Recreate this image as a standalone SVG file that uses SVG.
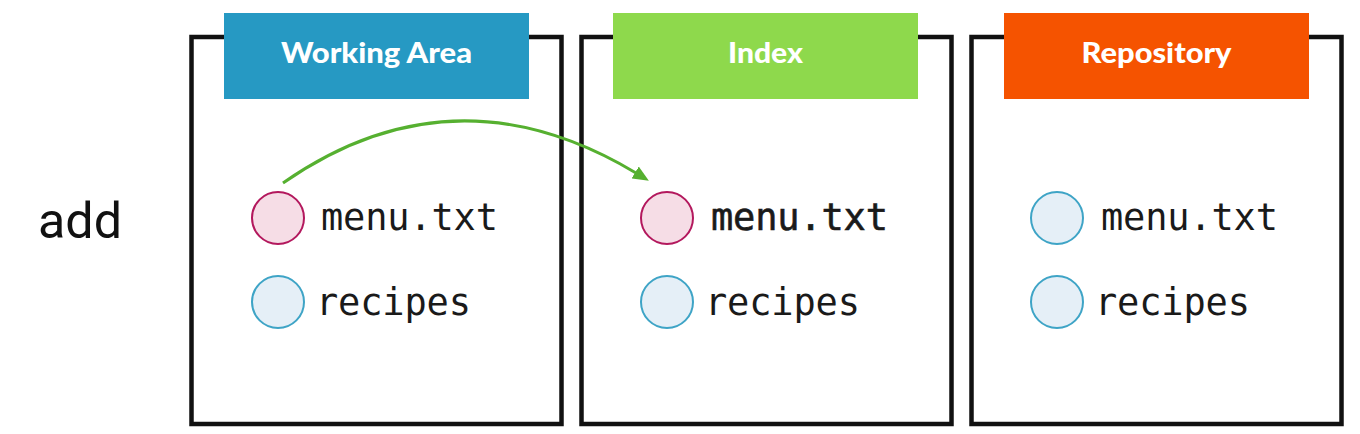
<svg xmlns="http://www.w3.org/2000/svg" width="1360" height="434" viewBox="0 0 1360 434">
<style>
.frame{fill:none;stroke:#111;stroke-width:4.5}
.hdr-t{font-family:Lato,"Open Sans","Liberation Sans",sans-serif;font-weight:900;font-size:28px;fill:#fff;text-anchor:middle}
.file{font-family:"DejaVu Sans Mono","Liberation Mono",monospace;font-size:37px;fill:#1a1a1a}
.mod{fill:#f6dde6;stroke:#b3185d;stroke-width:2}
.clean{fill:#e5eff7;stroke:#3ea4c6;stroke-width:2}
.cmd{font-family:Roboto,"Liberation Sans",sans-serif;font-size:50px;fill:#111}
.conn{fill:none;stroke:#56b030;stroke-width:3}
</style>
<defs>
<marker id="ah" viewBox="0 0 16 14" refX="1" refY="7" markerWidth="16" markerHeight="14" markerUnits="userSpaceOnUse" orient="auto">
<path d="M0,0 L16,7 L0,14 z" fill="#56b030"/>
</marker>
</defs>
<rect width="1360" height="434" fill="#fff"/>
<text class="cmd" x="38" y="238" textLength="84" lengthAdjust="spacingAndGlyphs">add</text>

<g id="working-area">
<rect class="frame" x="191.5" y="37" width="370" height="387"/>
<rect x="224" y="13" width="305" height="86" fill="#2699c3"/>
<text class="hdr-t" x="376.5" y="63" textLength="191" lengthAdjust="spacingAndGlyphs">Working Area</text>
<circle class="mod" cx="278" cy="218" r="26"/>
<text class="file" x="321" y="230" textLength="177" lengthAdjust="spacing">menu.txt</text>
<circle class="clean" cx="278" cy="302" r="26"/>
<text class="file" x="316" y="315" textLength="155" lengthAdjust="spacing">recipes</text>
</g>

<g id="index">
<rect class="frame" x="581.5" y="37" width="370" height="387"/>
<rect x="613" y="13" width="305" height="86" fill="#8ed94c"/>
<text class="hdr-t" x="765.5" y="63" textLength="75" lengthAdjust="spacingAndGlyphs">Index</text>
<circle class="mod" cx="667" cy="218" r="26"/>
<text class="file" x="711" y="230" textLength="177" lengthAdjust="spacing" stroke="#1a1a1a" stroke-width="0.6">menu.txt</text>
<circle class="clean" cx="667" cy="302" r="26"/>
<text class="file" x="705" y="315" textLength="155" lengthAdjust="spacing">recipes</text>
</g>

<g id="repository">
<rect class="frame" x="971.5" y="37" width="370" height="387"/>
<rect x="1004" y="13" width="305" height="86" fill="#f55300"/>
<text class="hdr-t" x="1156.5" y="63" textLength="150" lengthAdjust="spacingAndGlyphs">Repository</text>
<circle class="clean" cx="1057" cy="218" r="26"/>
<text class="file" x="1101" y="230" textLength="177" lengthAdjust="spacing">menu.txt</text>
<circle class="clean" cx="1057" cy="302" r="26"/>
<text class="file" x="1095" y="315" textLength="155" lengthAdjust="spacing">recipes</text>
</g>

<g id="connectors">
<path class="conn" d="M283,183 Q454,64 636,173" marker-end="url(#ah)"/>
</g>
</svg>
